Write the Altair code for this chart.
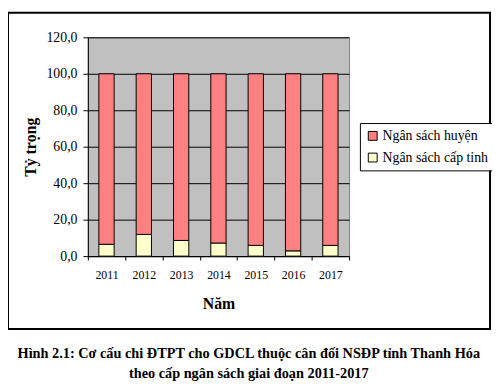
import altair as alt
import pandas as pd

years = ["2011", "2012", "2013", "2014", "2015", "2016", "2017"]
ns_tinh = [6.5, 11.9, 8.6, 7.2, 5.9, 2.9, 5.9]
ns_huyen = [93.5, 88.1, 91.4, 92.8, 94.1, 97.1, 94.1]
series = ["Ngân sách huyện", "Ngân sách cấp tỉnh"]
colors = ["#FF8080", "#FFFFCC"]
y_ticks = [0, 20, 40, 60, 80, 100, 120]
caption = ["Hình 2.1: Cơ cấu chi ĐTPT cho GDCL thuộc cân đối NSĐP tỉnh Thanh Hóa",
           "theo cấp ngân sách giai đoạn 2011-2017"]

FONT = "Liberation Serif"

rows = []
for y, t, h in zip(years, ns_tinh, ns_huyen):
    rows.append({"year": y, "series": series[1], "value": t, "ord": 0})
    rows.append({"year": y, "series": series[0], "value": h, "ord": 1})
df = pd.DataFrame(rows)

yscale = alt.Scale(domain=[0, 120], nice=False)
yaxis = alt.Axis(title="Tỷ trọng", values=y_ticks, grid=True,
                 gridColor="black", gridOpacity=1, gridWidth=1,
                 labelExpr="replace(format(datum.value, '.1f'), '.', ',')",
                 tickSize=5, labelPadding=6, titlePadding=8,
                 labelFontSize=14, titleFontSize=16,
                 domainColor="black", tickColor="black")

border = alt.Chart(pd.DataFrame({"a": [0]})).mark_rect(
    filled=False, stroke="black", strokeWidth=2
).encode(x=alt.value(-81), x2=alt.value(408), y=alt.value(-25), y2=alt.value(296))

bars = alt.Chart(df).mark_bar(width=alt.RelativeBandSize(0.41), stroke="black", strokeWidth=1).encode(
    x=alt.X("year:N", sort=years, scale=alt.Scale(paddingInner=0, paddingOuter=0),
            axis=alt.Axis(title="Năm", labelAngle=0, tickBand="extent", tickSize=4, grid=False,
                          labelPadding=10, titlePadding=15, domainColor="black", tickColor="black",
                          labelFontSize=12, titleFontSize=16)),
    y=alt.Y("value:Q", stack="zero", scale=yscale, axis=yaxis),
    color=alt.Color("series:N", scale=alt.Scale(domain=series, range=colors),
                    legend=alt.Legend(title=None, orient="none", legendX=276, legendY=87,
                                      symbolType="square", symbolSize=81,
                                      symbolStrokeColor="black", symbolStrokeWidth=1,
                                      strokeColor="black", fillColor="white", padding=6,
                                      rowPadding=8, labelFontSize=14, labelFont=FONT,
                                      labelColor="black", labelOffset=3, labelLimit=200)),
    order=alt.Order("ord:Q"),
)

chart = alt.layer(border, bars).properties(
    width=265, height=222,
    autosize="none",
    padding={"left": 81, "top": 27, "right": 145, "bottom": 128},
    title=alt.TitleParams(text=caption, orient="bottom", anchor="middle", frame="bounds",
                          offset=17, dx=-2, font=FONT, fontSize=14.5, fontWeight="bold",
                          color="black", lineHeight=21),
).configure_view(
    fill="#C0C0C0", stroke="#808080", strokeWidth=1
).configure_axis(
    labelFont=FONT, labelColor="black",
    titleFont=FONT, titleFontWeight="bold", titleColor="black",
)

chart.save("out.html", embed_options={"renderer": "svg", "actions": False})
